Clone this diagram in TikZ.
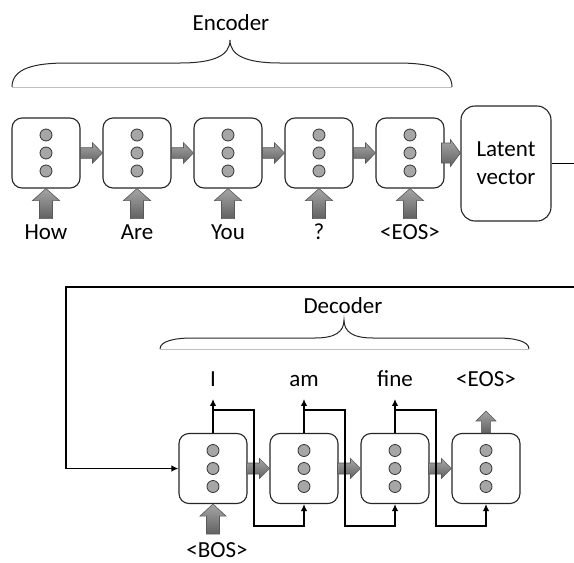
\documentclass[tikz,border=0pt]{standalone}
\usepackage{fontspec}
\setmainfont{Carlito}
\usetikzlibrary{arrows.meta}
\tikzset{
  cell/.style={draw=black!85,line width=1.1pt,rounded corners=10pt,minimum width=68pt,minimum height=70pt,inner sep=0pt},
  unit/.style={fill=black!35,draw=black!80,line width=0.8pt},
  fatarrow/.style={draw=black!65,line width=0.6pt,top color=black!35,bottom color=black!62},
  word/.style={font=\fontsize{23}{27}\selectfont,inner sep=0pt,anchor=base},
  link/.style={line width=1.3pt,-{Latex[length=7pt,width=6.5pt]}},
  brace/.style={draw=black!85,line width=1pt},
}
\newcommand{\fatup}[5]{\path[fatarrow] #1 -- ++(#4,#5) -- ++(-#4+#3,0) -- ++(0,#2-#5) -- ++(-2*#3,0) -- ++(0,-#2+#5) -- ++(-#4+#3,0) -- cycle;}
\newcommand{\fatright}[5]{\path[fatarrow] #1 -- ++(-#5,#4) -- ++(0,-#4+#3) -- ++(-#2+#5,0) -- ++(0,-2*#3) -- ++(#2-#5,0) -- ++(0,-#4+#3) -- cycle;}
\begin{document}
\begin{tikzpicture}[x=1pt,y=-1pt]
  \useasboundingbox (0,0) rectangle (574,563);
  % encoder
  \foreach \i/\x/\w in {1/46/How,2/137/Are,3/228/You,4/319/?,5/410/<EOS>}{
    \node[cell] (e\i) at (\x,153) {};
    \foreach \dy in {-18,0,18} \filldraw[unit] (e\i.center) ++(0,\dy) circle[radius=6];
    \fatup{(e\i.south)}{30}{6.5}{13.5}{12}
    \node[word] (w\i) at (\x,239) {\w};
  }
  \foreach \i/\j in {1/2,2/3,3/4,4/5} {\fatright{(e\j.west)}{22}{5.3}{10.3}{10}}
  \node[cell,minimum width=90pt,minimum height=115pt,rounded corners=14pt,align=center,
        font=\fontsize{23}{28}\selectfont] (lat) at (506,163.5) {Latent\\vector};
  \fatright{(lat.west |- e5.east)}{19}{10}{13.5}{10}
  \draw[brace] (12,87) .. controls (12,68) and (35,63) .. (67,63) -- (180,63)
     .. controls (215,63) and (230,55) .. (230,40) .. controls (230,55) and (245,63) .. (280,63)
     -- (397,63) .. controls (429,63) and (452,68) .. (452,87);
  \draw[black!25] (12,87) -- (452,87);
  \node[word] (enc) at (231,30) {Encoder};
  % decoder
  \foreach \i/\x/\w in {1/213/I,2/304/am,3/395/fine,4/486/<EOS>}{
    \node[cell] (d\i) at (\x,468.5) {};
    \foreach \dy in {-18,0,18} \filldraw[unit] (d\i.center) ++(0,\dy) circle[radius=6];
    \node[word] (o\i) at (\x,386) {\w};
  }
  \foreach \i/\j in {1/2,2/3,3/4} {
    \fatright{(d\j.west)}{23}{5.5}{10}{10}
    \draw[link] (d\i.north) -- ++(0,-34);
    \draw[link] (d\i.north) ++(0,-23) -- ++(41,0) -- ++(0,116) -| (d\j.south);
  }
  \fatup{([yshift=22pt]d4.north)}{22}{4.6}{10}{10}
  \fatup{(d1.south)}{30}{6.5}{13}{12}
  \node[word] (bos) at (217,557) {<BOS>};
  \draw[brace] (160,349) .. controls (160,341) and (175,338) .. (192,338) -- (315,338)
     .. controls (335,338) and (344,332) .. (344,320) .. controls (344,332) and (353,338) .. (373,338)
     -- (497,338) .. controls (514,338) and (529,341) .. (529,349);
  \draw[black!25] (160,349) -- (529,349);
  \node[word] (dec) at (343,313) {Decoder};
  % latent vector to decoder
  \coordinate (back) at (66,287);
  \draw[link] (lat.east) -- ++(30,0) |- (back) |- (d1.west);
\end{tikzpicture}
\end{document}
